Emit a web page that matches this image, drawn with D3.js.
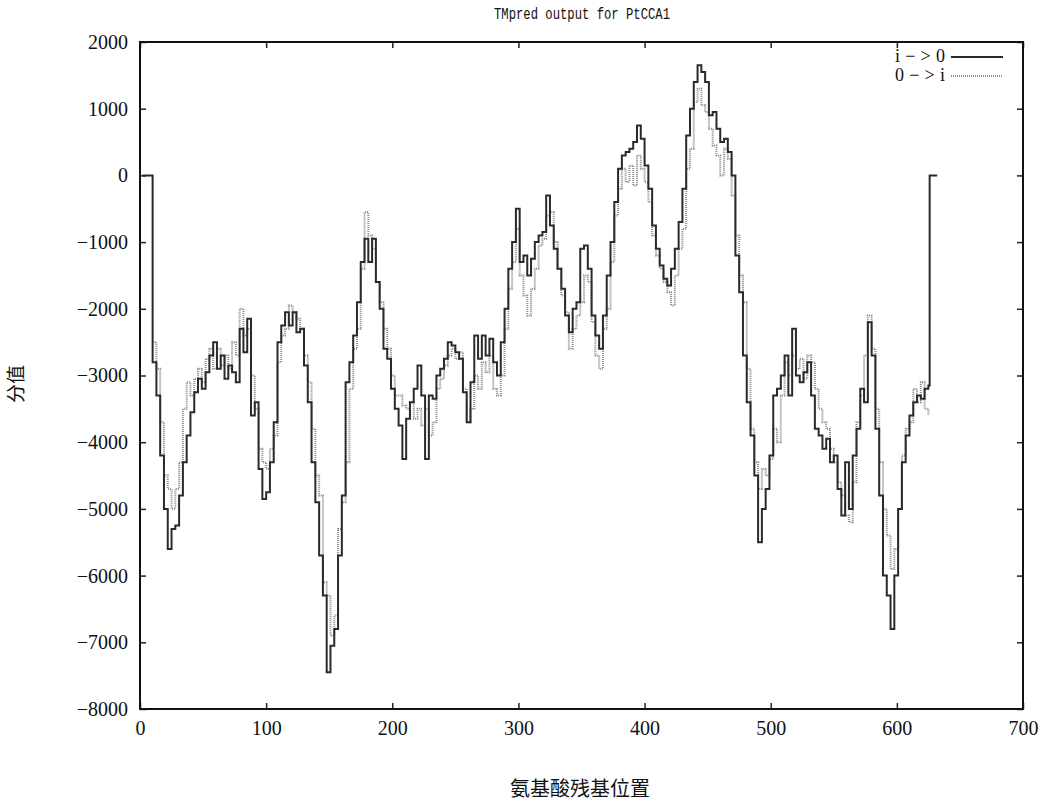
<!DOCTYPE html>
<html><head><meta charset="utf-8">
<script src="https://cdn.jsdelivr.net/npm/d3@7"></script>
<style>body{margin:0;background:#fff}</style>
</head><body>
<svg id="chart" width="1046" height="803"></svg>
<script>
// Residue positions (amino-acid position)
const residues = [2, 9,
10,13,16,19,22,25,28,31,34,37,
40,43,46,49,52,55,58,61,64,67,
70,73,76,79,82,85,88,91,94,97,
100,103,106,109,112,115,118,121,124,127,
130,133,136,139,142,145,148,151,154,157,
160,163,166,169,172,175,178,181,184,187,
190,193,196,199,202,205,208,211,214,217,
220,223,226,229,232,235,238,241,244,247,
250,253,256,259,262,265,268,271,274,277,
280,283,286,289,292,295,298,301,304,307,
310,313,316,319,322,325,328,331,334,337,
340,343,346,349,352,355,358,361,364,367,
370,373,376,379,382,385,388,391,394,397,
400,403,406,409,412,415,418,421,424,427,
430,433,436,439,442,445,448,451,454,457,
460,463,466,469,472,475,478,481,484,487,
490,493,496,499,502,505,508,511,514,517,
520,523,526,529,532,535,538,541,544,547,
550,553,556,559,562,565,568,571,574,577,
580,583,586,589,592,595,598,601,604,607,
610,613,616,619,622,625,
626, 632];

// i->0 scores
const scoreIto0 = [0, 0,
-2800,-3300,-4200,-5000,-5600,-5300,-5250,-4800,-4300,-3900,
-3550,-3250,-3050,-3200,-2950,-2700,-2500,-2900,-2700,-3050,
-2850,-2950,-3100,-2300,-2650,-2150,-3600,-3400,-4400,-4850,
-4750,-4300,-3700,-2500,-2250,-2050,-2250,-2050,-2350,-2300,
-2850,-3400,-4300,-4900,-5700,-6300,-7450,-7050,-6800,-5700,
-4800,-3100,-2800,-2400,-1900,-1300,-950,-1300,-950,-1600,
-2000,-2600,-2750,-3200,-3500,-3750,-4250,-3650,-3400,-3200,
-2850,-3300,-4250,-3300,-3350,-3000,-2900,-2750,-2500,-2550,
-2650,-2750,-3250,-3700,-3100,-2400,-2750,-2400,-2700,-2450,
-2800,-3000,-2500,-2000,-1400,-1000,-500,-1300,-1200,-1500,
-1250,-1000,-900,-850,-300,-750,-1100,-1400,-1700,-2100,
-2350,-2000,-1900,-1100,-1050,-1400,-2100,-2400,-2600,-2100,
-1500,-1000,-400,100,300,350,400,500,750,550,
150,-200,-750,-1100,-1350,-1550,-1650,-1400,-1100,-700,
-200,600,1000,1400,1650,1550,1400,900,950,700,
500,550,350,0,-1200,-1750,-2700,-3400,-3900,-4500,
-5500,-5000,-4700,-4200,-3300,-3200,-3000,-2700,-3300,-2300,
-3000,-3100,-2950,-2800,-3300,-3800,-3900,-4100,-3950,-4300,
-4200,-4700,-5100,-4300,-5000,-4200,-3800,-3200,-3400,-2200,
-2700,-3800,-4800,-6000,-6300,-6800,-6000,-5000,-4300,-3900,
-3600,-3400,-3300,-3350,-3200,-3150,
0, 0];

// 0->i scores
const score0toI = [null, null,
-2500,-2900,-3700,-4500,-4700,-5000,-4700,-4300,-3500,-3100,
-3300,-3050,-2900,-3100,-2750,-2600,-2900,-2600,-2850,-2700,
-2900,-2500,-2700,-2000,-2400,-2300,-3000,-3500,-4100,-4300,
-4400,-4100,-3900,-2800,-2400,-2300,-1950,-2050,-2150,-2300,
-2700,-3100,-3800,-4500,-4800,-6100,-6300,-6900,-6600,-5300,
-4900,-4300,-3200,-2600,-2300,-1400,-550,-900,-1100,-1600,
-1900,-2300,-2600,-3000,-3300,-3300,-3450,-3500,-3400,-3650,
-3500,-3750,-3500,-3900,-3700,-3200,-3050,-2850,-2700,-2600,
-2750,-2650,-3200,-3700,-3500,-3000,-3200,-2800,-2950,-2700,
-3200,-3300,-3000,-2300,-1700,-1300,-800,-1500,-1800,-2100,
-1700,-1400,-1050,-950,-600,-550,-1000,-1400,-1800,-2050,
-2600,-2300,-2100,-1900,-1500,-1600,-2200,-2700,-2900,-2300,
-2000,-1300,-600,-200,100,-100,150,-150,300,100,
-100,-400,-900,-1200,-1400,-1600,-1750,-1950,-1500,-1100,
-800,100,400,1100,1300,1050,950,700,450,300,
0,400,250,-300,-900,-1500,-1900,-2900,-3800,-4300,
-4700,-4400,-4500,-4250,-3800,-4000,-3300,-2800,-3000,-2700,
-2900,-2750,-3050,-2700,-2800,-3200,-3500,-3700,-3800,-4100,
-4300,-4600,-4800,-5100,-5200,-4600,-3700,-3300,-2700,-2100,
-2600,-3500,-4300,-5000,-5400,-5900,-5600,-5000,-4200,-3800,
-3700,-3200,-3400,-3100,-3500,-3600,
null, null];

const xTicks = [0,100,200,300,400,500,600,700];
const yTicks = [2000,1000,0,-1000,-2000,-3000,-4000,-5000,-6000,-7000,-8000];
const seriesNames = ["i\u2212>0", "0\u2212>i"];
const chartTitle = "TMpred output for PtCCA1";
const xTitle = "氨基酸残基位置";
const yTitle = "分值";

const svg = d3.select("#chart");
const L = 140, R = 1023, T = 42, B = 709;
const x = d3.scaleLinear().domain([0, 700]).range([L, R]);
const y = d3.scaleLinear().domain([-8000, 2000]).range([B, T]);
const fmt = v => (v < 0 ? "\u2212" + Math.abs(v) : String(v));
const serif = "'Liberation Serif','DejaVu Serif',serif";

// axes
const gL = svg.append("g").attr("transform", `translate(${L},0)`)
  .call(d3.axisLeft(y).tickValues(yTicks).tickSize(-6).tickPadding(12).tickFormat(fmt));
const gB = svg.append("g").attr("transform", `translate(0,${B})`)
  .call(d3.axisBottom(x).tickValues(xTicks).tickSize(-6).tickPadding(12).tickFormat(fmt));
const gR = svg.append("g").attr("transform", `translate(${R},0)`)
  .call(d3.axisRight(y).tickValues(yTicks).tickSize(-6).tickFormat(""));
const gT = svg.append("g").attr("transform", `translate(0,${T})`)
  .call(d3.axisTop(x).tickValues(xTicks).tickSize(-6).tickFormat(""));
[gL, gB, gR, gT].forEach(g => {
  g.select(".domain").remove();
  g.selectAll(".tick line").attr("stroke", "#222").attr("stroke-width", 1.5);
  g.selectAll("text").attr("font-family", serif).attr("font-size", 20).attr("fill", "#111");
});

// frame
svg.append("rect").attr("x", L).attr("y", T).attr("width", R - L).attr("height", B - T)
  .attr("fill", "none").attr("stroke", "#111").attr("stroke-width", 2);

// data
const pts = residues.map((r, i) => ({ r, a: scoreIto0[i], b: score0toI[i] }));
const lineB = d3.line().defined(d => d.b != null).x(d => x(d.r)).y(d => y(d.b)).curve(d3.curveStepAfter);
const lineA = d3.line().defined(d => d.a != null).x(d => x(d.r)).y(d => y(d.a)).curve(d3.curveStepAfter);

svg.append("path").datum(pts).attr("d", lineB).attr("fill", "none")
  .attr("stroke", "#8c8c8c").attr("stroke-width", 2).attr("stroke-dasharray", "1,1");
svg.append("path").datum(pts).attr("d", lineA).attr("fill", "none")
  .attr("stroke", "#2a2a2a").attr("stroke-width", 2);

// legend
const leg = svg.append("g");
seriesNames.forEach((name, i) => {
  const yy = 62 + i * 19;
  leg.append("text").attr("x", 945).attr("y", yy).attr("text-anchor", "end")
    .attr("font-family", serif).attr("font-size", 18).attr("fill", "#111")
    .attr("textLength", 50).attr("lengthAdjust", "spacing").text(name);
  const ln = leg.append("line").attr("x1", 951).attr("x2", 1003).attr("y1", yy - 5).attr("y2", yy - 5)
    .attr("stroke-width", 2);
  if (i === 0) ln.attr("stroke", "#2a2a2a");
  else ln.attr("stroke", "#8c8c8c").attr("stroke-dasharray", "1,1");
});

// titles
svg.append("text").attr("x", 582).attr("y", 19).attr("text-anchor", "middle")
  .attr("font-family", "'Liberation Mono','DejaVu Sans Mono',monospace").attr("font-size", 16)
  .attr("textLength", 176).attr("lengthAdjust", "spacingAndGlyphs").attr("fill", "#111").text(chartTitle);
svg.append("text").attr("x", 580).attr("y", 796).attr("text-anchor", "middle")
  .attr("font-family", "'Noto Sans CJK SC',sans-serif").attr("font-size", 20).attr("fill", "#111").text(xTitle);
svg.append("text").attr("transform", "translate(23,384) rotate(-90)").attr("text-anchor", "middle")
  .attr("font-family", "'Noto Sans CJK SC',sans-serif").attr("font-size", 19).attr("fill", "#111").text(yTitle);
</script>
</body></html>
